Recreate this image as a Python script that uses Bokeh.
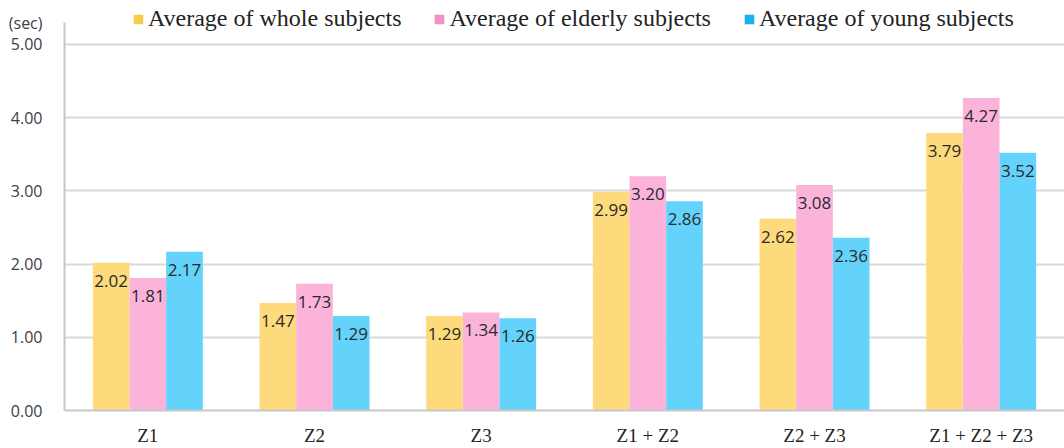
from bokeh.plotting import figure
from bokeh.models import (ColumnDataSource, FactorRange, Range1d, FixedTicker, NumeralTickFormatter,
                          Legend, LegendItem, LabelSet, CustomJSTickFormatter)
from bokeh.core.properties import value
from bokeh.transform import dodge
from bokeh.embed import file_html
from bokeh.resources import INLINE

categories = ["Z1", "Z2", "Z3", "Z1 + Z2", "Z2 + Z3", "Z1 + Z2 + Z3"]
whole = [2.02, 1.47, 1.29, 2.99, 2.62, 3.79]
elderly = [1.81, 1.73, 1.34, 3.20, 3.08, 4.27]
young = [2.17, 1.29, 1.26, 2.86, 2.36, 3.52]
series_names = ["Average of whole subjects", "Average of elderly subjects", "Average of young subjects"]
y_ticks = [0, 1, 2, 3, 4, 5]
unit_text = "(sec)"

bar_colors = ["#FDDA7B", "#FBB3DA", "#63D3FB"]
legend_colors = ["#F7CB4D", "#F58FC8", "#1BB1EC"]

src = ColumnDataSource(dict(
    cat=categories, whole=whole, elderly=elderly, young=young,
    whole_t=[f"{v:.2f}" for v in whole],
    elderly_t=[f"{v:.2f}" for v in elderly],
    young_t=[f"{v:.2f}" for v in young],
))

Y_TOP = 5.601   # frame reaches the top of the canvas so the legend fits inside it
UNIT_POS = 5.3

p = figure(width=1064, height=448, output_backend="svg", toolbar_location=None,
           x_range=FactorRange(factors=categories, range_padding=0),
           y_range=Range1d(0, Y_TOP),
           min_border_left=64, min_border_right=0, min_border_bottom=38, min_border_top=0)
p.outline_line_color = None
p.background_fill_color = "white"

bw = 0.22
keys = ["whole", "elderly", "young"]
offs = [-bw, 0, bw]
items = []
for k, o, c, lc, name in zip(keys, offs, bar_colors, legend_colors, series_names):
    p.vbar(x=dodge("cat", o, range=p.x_range), top=k, width=bw, source=src,
           fill_color=c, line_color=None)
    lbl = LabelSet(x=dodge("cat", o, range=p.x_range), y=k, text=k + "_t", source=src,
                   text_align="center", text_baseline="middle", y_offset=-18,
                   text_font=value("Open Sans"), text_font_size="17px", text_color="#2a2a2a")
    p.add_layout(lbl)
    # hidden renderer used only for the legend swatch
    r = p.vbar(x="cat", top=k, width=bw, source=src,
               fill_color=lc, line_color=None, visible=False)
    items.append(LegendItem(label=name, renderers=[r]))

leg = Legend(items=items, orientation="horizontal", location=(68, 378),
             label_text_font="Liberation Serif", label_text_font_size="24px",
             label_text_color="#222222", glyph_width=12, glyph_height=12,
             spacing=32, padding=0, margin=0, border_line_color=None,
             background_fill_alpha=0, label_standoff=4,
             inactive_fill_alpha=0, click_policy="none")
p.add_layout(leg)

# axes
p.yaxis.ticker = FixedTicker(ticks=y_ticks + [UNIT_POS])
p.yaxis.formatter = CustomJSTickFormatter(
    args=dict(unit=unit_text, upos=UNIT_POS),
    code="return Math.abs(tick - upos) < 1e-6 ? unit : tick.toFixed(2);")
p.yaxis.bounds = (0, UNIT_POS)
p.yaxis.major_label_text_font = "Open Sans"
p.yaxis.major_label_text_font_size = "16px"
p.yaxis.major_label_text_color = "#404040"
p.yaxis.axis_line_color = "#C8C8C8"
p.yaxis.axis_line_width = 2
p.yaxis.major_tick_line_color = None
p.yaxis.minor_tick_line_color = None
p.yaxis.major_label_standoff = 16

p.xaxis.major_label_text_font = "Liberation Serif"
p.xaxis.major_label_text_font_size = "19px"
p.xaxis.major_label_text_color = "#222222"
p.xaxis.axis_line_color = "#C8C8C8"
p.xaxis.axis_line_width = 2
p.xaxis.major_tick_line_color = None
p.xaxis.major_label_standoff = 8

p.xgrid.grid_line_color = None
p.ygrid.ticker = FixedTicker(ticks=y_ticks)
p.ygrid.grid_line_color = "#D9D9D9"
p.ygrid.grid_line_width = 2

open("out.html", "w").write(file_html(p, INLINE))
